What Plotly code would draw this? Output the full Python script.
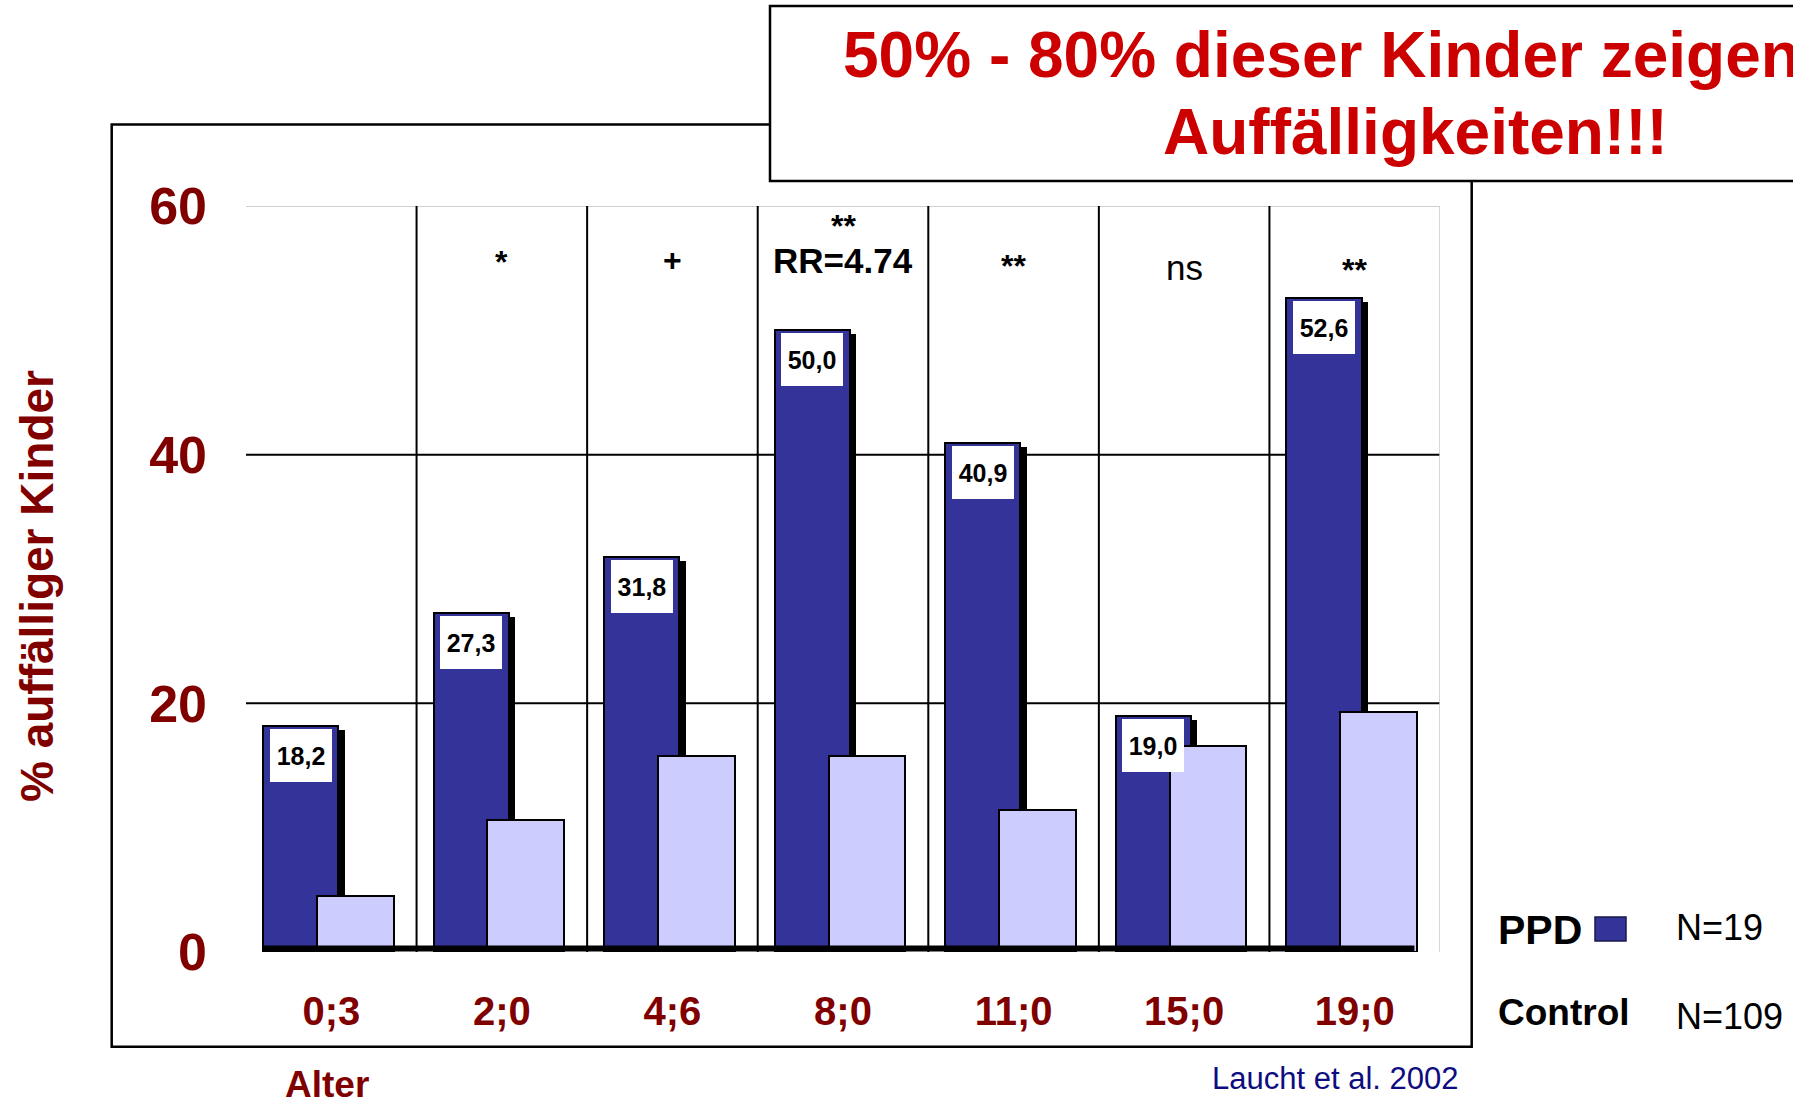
import plotly.graph_objects as go

# ---------------- data ----------------
ages = ["0;3", "2;0", "4;6", "8;0", "11;0", "15;0", "19;0"]
ppd_values = [18.2, 27.3, 31.8, 50.0, 40.9, 19.0, 52.6]
control_values = [4.5, 10.6, 15.8, 15.8, 11.4, 16.6, 19.3]
ppd_labels = ["18,2", "27,3", "31,8", "50,0", "40,9", "19,0", "52,6"]
significance = ["", "*", "+", "**", "**", "ns", "**"]
y_ticks = [0, 20, 40, 60]

# ---------------- styling ----------------
FONT = "Liberation Sans, Arial, Helvetica, sans-serif"
DARKRED = "#800000"
TITLE_RED = "#CC0000"
PPD_COLOR = "#333399"
CTRL_COLOR = "#CCCCFF"

W, H = 1793, 1106
L, R, T, B = 246, 1440, 206, 952          # plot area in pixels
n = len(ages)
x_unit = (R - L) / n
y_unit = (B - T) / 60.0


def px(xp):
    return (xp - L) / (R - L)


def py(yp):
    return (B - yp) / (B - T)


ppd_offset, ppd_width = -0.40, 0.44
ctrl_offset, ctrl_width = -0.085, 0.45
shadow_dx = 6.5 / x_unit
shadow_dy = 4.0 / y_unit

xs = list(range(n))

fig = go.Figure()

# shadow of PPD bars
fig.add_trace(go.Bar(
    x=xs, y=[v - shadow_dy for v in ppd_values],
    offset=ppd_offset + shadow_dx, width=ppd_width,
    marker=dict(color="black", line=dict(width=0)),
    hoverinfo="skip", showlegend=False,
))
# PPD bars
fig.add_trace(go.Bar(
    x=xs, y=ppd_values, name="PPD",
    offset=ppd_offset, width=ppd_width,
    marker=dict(color=PPD_COLOR, line=dict(color="black", width=2)),
    hoverinfo="skip", showlegend=False,
))
# Control bars
fig.add_trace(go.Bar(
    x=xs, y=control_values, name="Control",
    offset=ctrl_offset, width=ctrl_width,
    marker=dict(color=CTRL_COLOR, line=dict(color="black", width=2)),
    hoverinfo="skip", showlegend=False,
))

shapes = []
# outer frame
shapes.append(dict(type="rect", xref="paper", yref="paper",
                   x0=px(111.7), x1=px(1471.7), y0=py(124.6), y1=py(1046.7),
                   line=dict(color="black", width=2.5), fillcolor="rgba(0,0,0,0)",
                   layer="below"))
# horizontal gridlines
for v in y_ticks[1:-1]:
    shapes.append(dict(type="line", xref="x", yref="y", x0=-0.5, x1=n - 0.5, y0=v, y1=v,
                       line=dict(color="black", width=2), layer="below"))
shapes.append(dict(type="line", xref="x", yref="y", x0=-0.5, x1=n - 0.5, y0=60, y1=60,
                   line=dict(color="#C0C0C0", width=1.5), layer="below"))
shapes.append(dict(type="line", xref="x", yref="y", x0=n - 0.5, x1=n - 0.5, y0=0, y1=60,
                   line=dict(color="#C8C8C8", width=1.5), layer="below"))
# category separators
for i in range(n - 1):
    shapes.append(dict(type="line", xref="x", yref="y", x0=i + 0.5, x1=i + 0.5, y0=0, y1=60,
                       line=dict(color="black", width=2), layer="below"))
# thick base line
shapes.append(dict(type="line", xref="x", yref="y", x0=-0.40, x1=n - 1 + 0.35,
                   y0=0.28, y1=0.28, line=dict(color="black", width=6), layer="above"))
# title box
shapes.append(dict(type="rect", xref="paper", yref="paper",
                   x0=px(770), x1=px(1810), y0=py(181), y1=py(6),
                   line=dict(color="black", width=2.5), fillcolor="white", layer="above"))
# legend swatch
shapes.append(dict(type="rect", xref="paper", yref="paper",
                   x0=px(1595), x1=px(1626), y0=py(941), y1=py(917),
                   line=dict(color="#1a1a4a", width=1.5), fillcolor=PPD_COLOR, layer="above"))

annotations = []


def text_at(xp, yp, text, size, color="black", xanchor="center", angle=0):
    annotations.append(dict(x=px(xp), y=py(yp), xref="paper", yref="paper",
                            xanchor=xanchor, yanchor="middle", text=text, showarrow=False,
                            borderpad=0, borderwidth=0, textangle=angle,
                            font=dict(family=FONT, size=size, color=color)))


# value labels in white boxes on PPD bars
for i, (v, lab) in enumerate(zip(ppd_values, ppd_labels)):
    annotations.append(dict(
        x=i + ppd_offset + ppd_width / 2, y=v, xref="x", yref="y",
        text=f"<b>{lab}</b>", showarrow=False, xanchor="center", yanchor="top",
        yshift=-3, width=62, height=53, bgcolor="white", borderpad=0, borderwidth=0,
        font=dict(family=FONT, size=25, color="black"), valign="middle",
    ))

# significance markers (pixel y of each marker's anchor)
sig_pix_y = [None, 262, 260, 226, 266, 267, 270]
for i, s in enumerate(significance):
    if not s:
        continue
    if s == "ns":
        txt, size = "ns", 35
    else:
        txt, size = f"<b>{s}</b>", 32
    annotations.append(dict(x=i, y=py(sig_pix_y[i]), xref="x", yref="paper",
                            xanchor="center", yanchor="middle", text=txt, showarrow=False,
                            borderpad=0, borderwidth=0,
                            font=dict(family=FONT, size=size, color="black")))
    if i == 3:
        annotations.append(dict(x=i, y=py(260), xref="x", yref="paper",
                                xanchor="center", yanchor="middle", text="<b>RR=4.74</b>",
                                showarrow=False, borderpad=0, borderwidth=0,
                                font=dict(family=FONT, size=35, color="black")))

# y-axis title
text_at(37, 586, "<b>% auffälliger Kinder</b>", 46, DARKRED, angle=-90)
# "Alter"
text_at(326.5, 1084, "<b>Alter</b>", 37, DARKRED)
# citation
text_at(1458, 1078, "Laucht et al. 2002", 31, "#0D0D80", xanchor="right")
# title lines
text_at(843, 55, "<b>50% - 80% dieser Kinder zeigen</b>", 64, TITLE_RED, xanchor="left")
text_at(1162.5, 131.7, "<b>Auffälligkeiten!!!</b>", 64, TITLE_RED, xanchor="left")
# legend texts
text_at(1498, 930, "<b>PPD</b>", 41, xanchor="left")
text_at(1498, 1012.5, "<b>Control</b>", 37, xanchor="left")
text_at(1675.6, 927, "N=19", 36, xanchor="left")
text_at(1675.6, 1016.5, "N=109", 36, xanchor="left")

fig.update_layout(
    width=W, height=H,
    margin=dict(l=L, r=W - R, t=T, b=H - B, pad=0),
    paper_bgcolor="white", plot_bgcolor="white",
    barmode="overlay", bargap=0,
    showlegend=False,
    shapes=shapes, annotations=annotations,
    xaxis=dict(range=[-0.5, n - 0.5], tickmode="array", tickvals=xs,
               ticktext=[f"<b>{a}</b>" for a in ages], showgrid=False, zeroline=False,
               showline=False, ticks="", ticklabelstandoff=32,
               tickfont=dict(family=FONT, size=40, color=DARKRED), fixedrange=True),
    yaxis=dict(range=[0, 60], tickmode="array", tickvals=y_ticks,
               ticktext=[f"<b>{t}</b>" for t in y_ticks], showgrid=False, zeroline=False,
               showline=False, ticks="", ticklabelstandoff=38,
               tickfont=dict(family=FONT, size=52, color=DARKRED), fixedrange=True),
)

fig.write_html("out.html", config={"displayModeBar": False})
